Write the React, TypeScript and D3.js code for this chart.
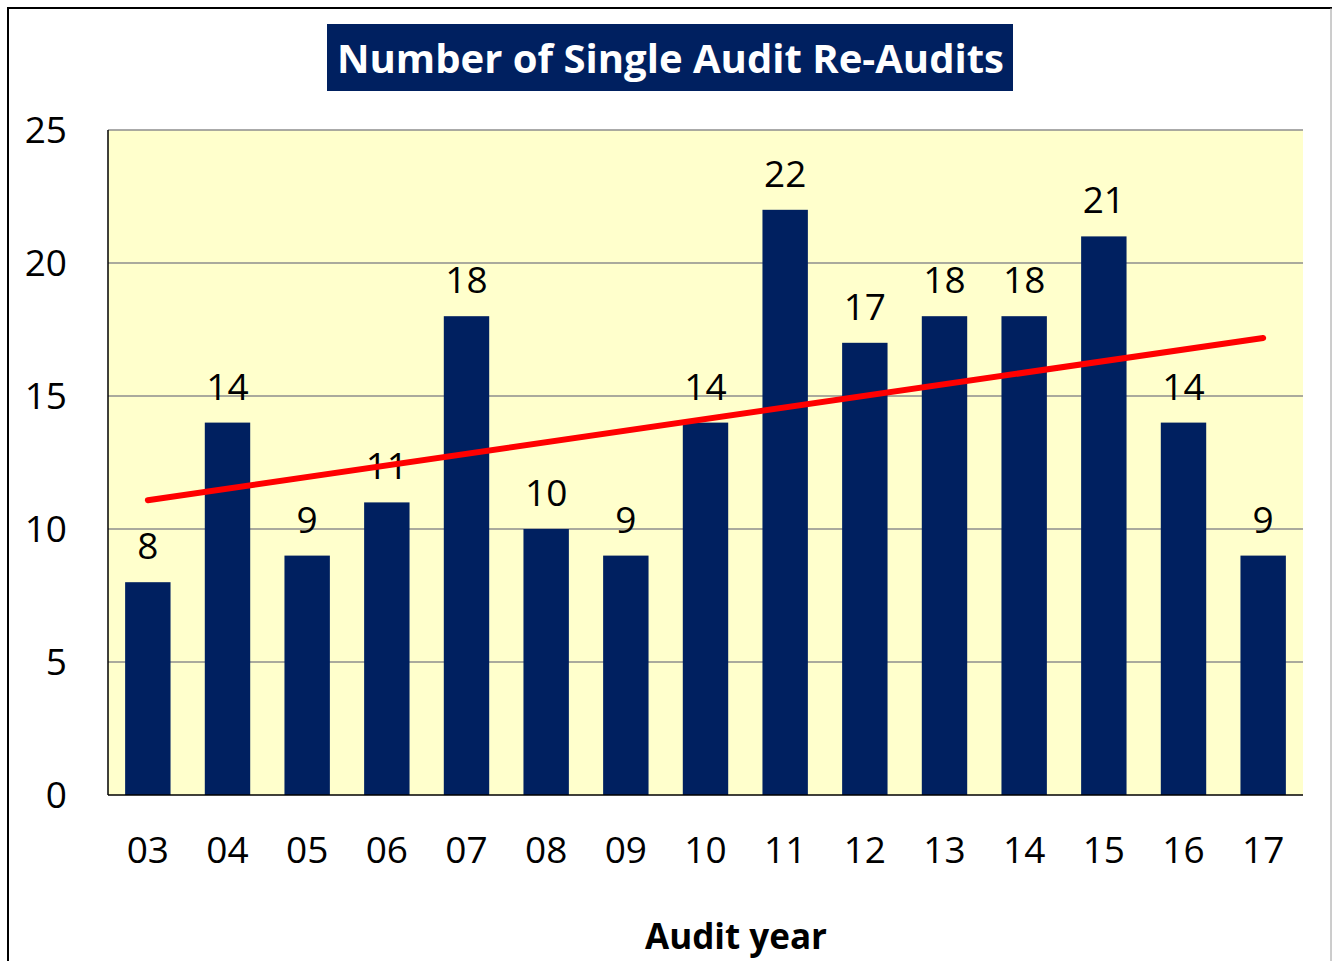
import React, { useEffect, useRef } from 'react';
import * as d3 from 'd3';

const years = ['03', '04', '05', '06', '07', '08', '09', '10', '11', '12', '13', '14', '15', '16', '17'];
const reAudits = [8, 14, 9, 11, 18, 10, 9, 14, 22, 17, 18, 18, 21, 14, 9];
const yTicks = [0, 5, 10, 15, 20, 25];

const chartTitle = 'Number of Single Audit Re-Audits';
const xTitle = 'Audit year';

const NAVY = '#002060';
const FONT = '"Open Sans", "DejaVu Sans", sans-serif';

const App = () => {
  const svgRef = useRef<SVGSVGElement>(null);

  useEffect(() => {
    drawChart(svgRef);
  }, [svgRef]);

  return (
    <svg
      ref={svgRef}
      width={1332}
      height={961}
      style={{ position: 'absolute', left: 0, top: 0, background: 'white' }}
    />
  );
};

function drawChart(svgRef: React.RefObject<SVGSVGElement>) {
  const svg = d3.select(svgRef.current);
  svg.selectAll('*').remove();

  const plot = { left: 108, top: 130, right: 1303, bottom: 795 };

  // outer frame
  svg.append('line').attr('x1', 8).attr('x2', 8).attr('y1', 7).attr('y2', 961)
    .attr('stroke', '#000').attr('stroke-width', 2);
  svg.append('line').attr('x1', 7).attr('x2', 1332).attr('y1', 8).attr('y2', 8)
    .attr('stroke', '#000').attr('stroke-width', 2);
  svg.append('line').attr('x1', 1331).attr('x2', 1331).attr('y1', 8).attr('y2', 961)
    .attr('stroke', '#9a9a9a').attr('stroke-width', 1);

  const x = d3.scaleBand<string>()
    .domain(years)
    .range([plot.left, plot.right])
    .paddingInner(0.43)
    .paddingOuter(0.215);

  const y = d3.scaleLinear().domain([0, 25]).range([plot.bottom, plot.top]);

  // plot background
  svg.append('rect')
    .attr('x', plot.left).attr('y', plot.top)
    .attr('width', plot.right - plot.left).attr('height', plot.bottom - plot.top)
    .attr('fill', '#FFFFCC');

  // gridlines
  svg.append('g')
    .selectAll('line')
    .data(yTicks.filter((t) => t > 0))
    .join('line')
    .attr('x1', plot.left).attr('x2', plot.right)
    .attr('y1', (d) => y(d)).attr('y2', (d) => y(d))
    .attr('stroke', '#8e8e8e').attr('stroke-width', 1.5);

  // y tick labels
  svg.append('g')
    .selectAll('text')
    .data(yTicks)
    .join('text')
    .attr('x', 67)
    .attr('y', (d) => y(d) + 13)
    .attr('text-anchor', 'end')
    .style('font-family', FONT)
    .style('font-size', '37px')
    .attr('fill', '#000')
    .text((d) => d);

  // bars
  svg.append('g')
    .selectAll('rect')
    .data(reAudits)
    .join('rect')
    .attr('x', (_d, i) => x(years[i]) as number)
    .attr('y', (d) => y(d))
    .attr('width', x.bandwidth())
    .attr('height', (d) => plot.bottom - y(d))
    .attr('fill', NAVY);

  // axes lines
  svg.append('line').attr('x1', plot.left).attr('x2', plot.left)
    .attr('y1', plot.top).attr('y2', plot.bottom)
    .attr('stroke', '#000').attr('stroke-width', 1.5);
  svg.append('line').attr('x1', plot.left).attr('x2', plot.right)
    .attr('y1', plot.bottom).attr('y2', plot.bottom)
    .attr('stroke', '#000').attr('stroke-width', 1.5);

  const cx = (i: number) => (x(years[i]) as number) + x.bandwidth() / 2;

  // value labels
  svg.append('g')
    .selectAll('text')
    .data(reAudits)
    .join('text')
    .attr('x', (_d, i) => cx(i))
    .attr('y', (d) => y(d) - 23)
    .attr('text-anchor', 'middle')
    .style('font-family', FONT)
    .style('font-size', '37px')
    .attr('fill', '#000')
    .text((d) => d);

  // x tick labels
  svg.append('g')
    .selectAll('text')
    .data(years)
    .join('text')
    .attr('x', (_d, i) => cx(i))
    .attr('y', 863)
    .attr('text-anchor', 'middle')
    .style('font-family', FONT)
    .style('font-size', '37px')
    .attr('fill', '#000')
    .text((d) => d);

  // linear trendline (least squares)
  const idx = reAudits.map((_d, i) => i);
  const mx = d3.mean(idx) as number;
  const my = d3.mean(reAudits) as number;
  const sxy = d3.sum(idx, (i) => (i - mx) * (reAudits[i] - my));
  const sxx = d3.sum(idx, (i) => (i - mx) * (i - mx));
  const slope = sxy / sxx;
  const intercept = my - slope * mx;
  const trend = [0, reAudits.length - 1].map((i) => ({ i, v: intercept + slope * i }));

  svg.append('path')
    .datum(trend)
    .attr('fill', 'none')
    .attr('stroke', '#FF0000')
    .attr('stroke-width', 6)
    .attr('stroke-linecap', 'round')
    .attr(
      'd',
      d3.line<{ i: number; v: number }>()
        .x((d) => cx(d.i))
        .y((d) => y(d.v))
    );

  // title
  svg.append('rect')
    .attr('x', 327).attr('y', 24).attr('width', 686).attr('height', 67)
    .attr('fill', NAVY);
  svg.append('text')
    .attr('x', 337)
    .attr('y', 73)
    .attr('textLength', 667)
    .attr('lengthAdjust', 'spacingAndGlyphs')
    .style('font-family', FONT)
    .style('font-size', '40px')
    .style('font-weight', 700)
    .attr('fill', '#fff')
    .text(chartTitle);

  // x axis title
  svg.append('text')
    .attr('x', 736)
    .attr('y', 949)
    .attr('text-anchor', 'middle')
    .attr('textLength', 182)
    .attr('lengthAdjust', 'spacingAndGlyphs')
    .style('font-family', FONT)
    .style('font-size', '35px')
    .style('font-weight', 700)
    .attr('fill', '#000')
    .text(xTitle);
}

export default App;
